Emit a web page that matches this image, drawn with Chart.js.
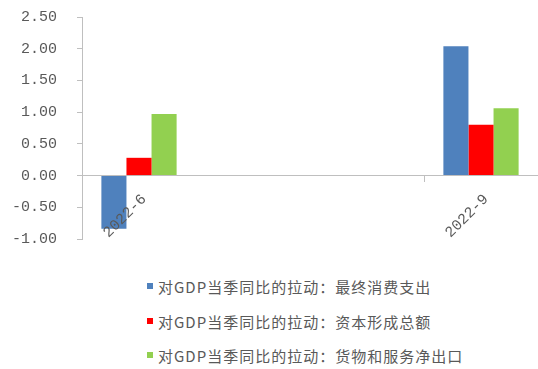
<!DOCTYPE html>
<html>
<head>
    <title>GDP contribution</title>
    <script src="https://cdn.jsdelivr.net/npm/chart.js"></script>
    <style>
        body {
            margin: 0;
            padding: 0;
            background: #fff;
            width: 538px;
            height: 369px;
            overflow: hidden;
            position: relative;
        }

        #chart-box {
            position: absolute;
            left: 0;
            top: 0;
            width: 538px;
            height: 260px;
        }

        #legend {
            position: absolute;
            left: 147px;
            top: 276px;
            font-family: 'Noto Sans CJK SC', sans-serif;
            font-size: 15px;
            letter-spacing: 1px;
            color: #595959;
        }

        .item {
            height: 34.5px;
            display: flex;
            align-items: flex-start;
        }

        .swatch {
            width: 6px;
            height: 6px;
            margin-top: 7px;
            margin-right: 5px;
        }
    </style>
</head>
<body>
    <div id="chart-box">
        <canvas id="myChart"></canvas>
    </div>
    <div id="legend"></div>

    <script>
        // months on the date axis, only quarter ends carry data
        const categories = ['2022-6', '2022-7', '2022-8', '2022-9'];
        const tickLabels = ['2022-6', '', '', '2022-9'];

        const seriesNames = [
            '对GDP当季同比的拉动：最终消费支出',
            '对GDP当季同比的拉动：资本形成总额',
            '对GDP当季同比的拉动：货物和服务净出口'
        ];
        const consumption = [-0.84, null, null, 2.04];
        const capital = [0.28, null, null, 0.80];
        const netExports = [0.97, null, null, 1.06];
        const colors = ['#4F81BD', '#FF0000', '#92D050'];

        const yTicks = { min: -1, max: 2.5, step: 0.5 };

        const axisGrey = '#bfbfbf';
        const textGrey = '#595959';
        const tickFont = { family: 'Liberation Mono', size: 15 };

        const seriesValues = [consumption, capital, netExports];

        const datasets = seriesNames.map((name, i) => ({
            label: name,
            data: seriesValues[i],
            backgroundColor: colors[i],
            borderWidth: 0,
            barPercentage: 1.0,
            categoryPercentage: 0.66
        }));

        // keep the plot box fixed, labels may spill over the margins
        function noPadding(s) {
            s.paddingTop = 0;
            s.paddingBottom = 0;
            s.paddingLeft = 0;
            s.paddingRight = 0;
        }

        new Chart(document.getElementById('myChart'), {
            type: 'bar',
            data: { labels: categories, datasets: datasets },
            options: {
                responsive: true,
                maintainAspectRatio: false,
                animation: false,
                layout: { padding: { top: 17, bottom: 21, left: 0, right: 0 } },
                plugins: {
                    legend: { display: false },
                    tooltip: { enabled: false }
                },
                scales: {
                    x: {
                        position: { y: 0 },
                        afterFit: (s) => { s.height = 0; noPadding(s); },
                        border: { color: axisGrey, width: 1 },
                        grid: {
                            drawOnChartArea: false,
                            tickLength: 6,
                            tickColor: (ctx) => (ctx.index === 0 || ctx.index === 3) ? axisGrey : 'rgba(0,0,0,0)'
                        },
                        ticks: {
                            z: 1,
                            autoSkip: false,
                            minRotation: 45,
                            maxRotation: 45,
                            padding: 9,
                            labelOffset: 5,
                            color: textGrey,
                            font: tickFont,
                            callback: (v, i) => tickLabels[i]
                        }
                    },
                    y: {
                        min: yTicks.min,
                        max: yTicks.max,
                        afterFit: (s) => { s.width = 82; noPadding(s); },
                        border: { color: axisGrey, width: 1 },
                        grid: {
                            drawOnChartArea: false,
                            tickLength: 5,
                            color: axisGrey
                        },
                        ticks: {
                            stepSize: yTicks.step,
                            padding: 20,
                            color: textGrey,
                            font: tickFont,
                            callback: (v) => v.toFixed(2)
                        }
                    }
                }
            }
        });

        // legend stacked on the left, one series per row
        const legend = document.getElementById('legend');
        seriesNames.forEach((name, i) => {
            const row = document.createElement('div');
            row.className = 'item';
            const sw = document.createElement('span');
            sw.className = 'swatch';
            sw.style.background = colors[i];
            const txt = document.createElement('span');
            txt.textContent = name;
            row.appendChild(sw);
            row.appendChild(txt);
            legend.appendChild(row);
        });
    </script>
</body>
</html>
